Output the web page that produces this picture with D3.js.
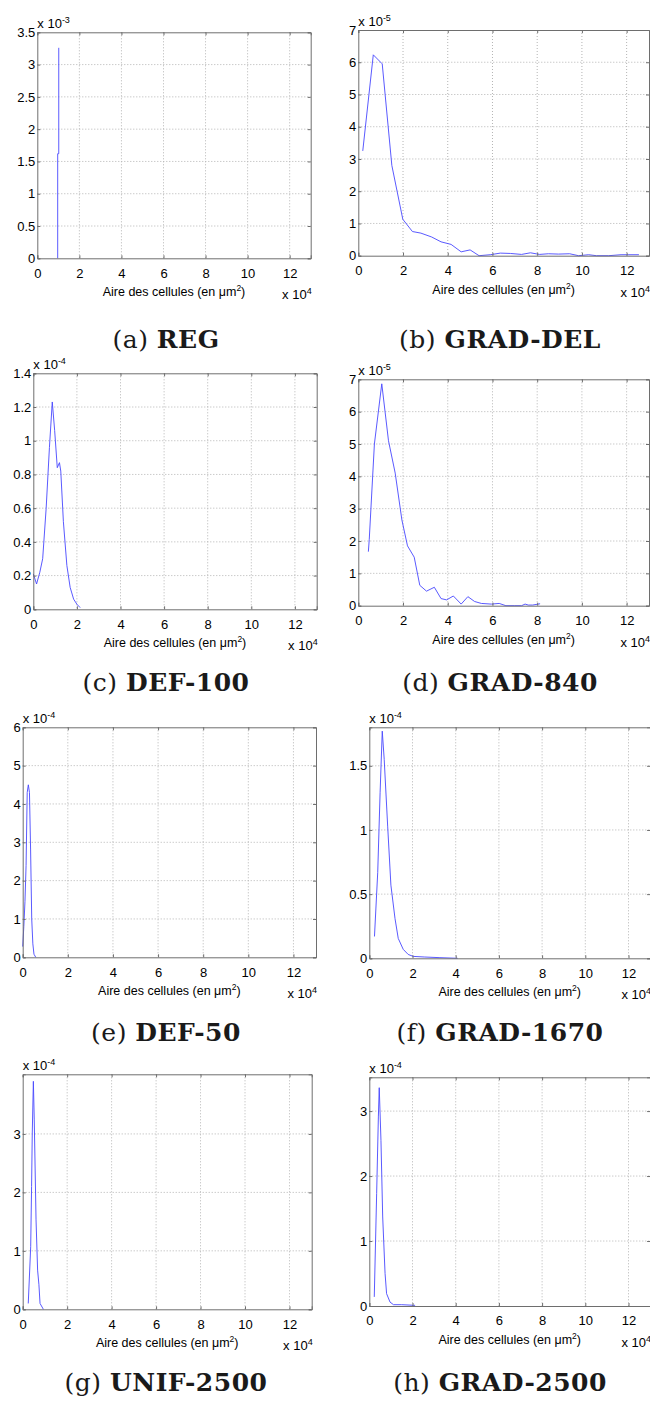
<!DOCTYPE html>
<html>
<head>
<meta charset="utf-8">
<script src="https://cdn.jsdelivr.net/npm/d3@7"></script>
<style>
  html, body { margin: 0; padding: 0; background: #fff; }
  svg { display: block; }
  .tick-label { font-family: "Liberation Sans", Arial, sans-serif; font-size: 13px; fill: #000; }
  .axis-title { font-family: "Liberation Sans", Arial, sans-serif; font-size: 12.5px; fill: #000; }
  .caption { font-family: "DejaVu Serif", "Liberation Serif", serif; font-size: 25px; letter-spacing: 0.5px; fill: #1a1a1a; }
</style>
</head>
<body>
<svg id="fig" width="650" height="1403"></svg>
<script>
// ---------------- DATA ----------------
const xTicks = [0, 2, 4, 6, 8, 10, 12];
const xDomain = [0, 13];

// (a) REG
const regX = [0.97, 0.97, 1.02, 1.02];
const regY = [0, 1.62, 1.62, 3.26];
const regYTicks = [0, 0.5, 1, 1.5, 2, 2.5, 3, 3.5];
const regYMax = 3.5;

// (b) GRAD-DEL
const gradDelX = [0.2, 0.67, 1.07, 1.5, 1.99, 2.42, 2.8, 3.28, 3.7, 4.15, 4.6, 5.0, 5.4, 5.9, 6.35, 6.8, 7.3, 7.7, 8.1, 8.5, 8.95, 9.45, 9.85, 10.3, 10.65, 11.2, 11.75, 12.1, 12.55];
const gradDelY = [3.25, 6.23, 5.95, 2.8, 1.13, 0.75, 0.7, 0.58, 0.43, 0.35, 0.12, 0.18, 0.0, 0.03, 0.08, 0.07, 0.04, 0.09, 0.04, 0.06, 0.05, 0.06, 0.0, 0.03, 0.0, 0.0, 0.03, 0.03, 0.03];
const gradDelYTicks = [0, 1, 2, 3, 4, 5, 6, 7];
const gradDelYMax = 7;

// (c) DEF-100
const def100X = [0.0, 0.15, 0.3, 0.43, 0.59, 0.74, 0.87, 0.98, 1.1, 1.2, 1.26, 1.38, 1.54, 1.69, 1.85, 2.0, 2.15];
const def100Y = [0.21, 0.15, 0.22, 0.3, 0.6, 0.96, 1.23, 1.06, 0.84, 0.87, 0.82, 0.52, 0.26, 0.13, 0.06, 0.03, 0.01];
const def100YTicks = [0, 0.2, 0.4, 0.6, 0.8, 1, 1.2, 1.4];
const def100YMax = 1.4;

// (d) GRAD-840
const grad840X = [0.45, 0.49, 0.72, 1.05, 1.35, 1.65, 1.95, 2.2, 2.5, 2.75, 3.05, 3.4, 3.7, 3.95, 4.25, 4.6, 4.9, 5.2, 5.5, 5.95, 6.3, 6.6, 7.0, 7.3, 7.46, 7.6, 7.8, 8.13];
const grad840Y = [1.67, 2.05, 5.0, 6.86, 5.1, 4.1, 2.65, 1.85, 1.5, 0.63, 0.45, 0.57, 0.22, 0.18, 0.3, 0.05, 0.28, 0.13, 0.07, 0.05, 0.07, 0.0, 0.0, 0.0, 0.05, 0.02, 0.02, 0.06];
const grad840YTicks = [0, 1, 2, 3, 4, 5, 6, 7];
const grad840YMax = 7;

// (e) DEF-50
const def50X = [0.0, 0.05, 0.1, 0.15, 0.2, 0.25, 0.3, 0.35, 0.4, 0.45, 0.5, 0.58];
const def50Y = [0.28, 0.8, 1.45, 2.4, 4.3, 4.5, 4.3, 2.8, 1.0, 0.35, 0.08, 0.0];
const def50YTicks = [0, 1, 2, 3, 4, 5, 6];
const def50YMax = 6;

// (f) GRAD-1670
const grad1670X = [0.24, 0.39, 0.5, 0.6, 0.69, 0.85, 1.0, 1.19, 1.34, 1.57, 1.8, 2.03, 2.57, 3.27, 4.09];
const grad1670Y = [0.17, 0.67, 1.29, 1.77, 1.55, 1.03, 0.57, 0.31, 0.155, 0.07, 0.03, 0.015, 0.01, 0.005, 0.0];
const grad1670YTicks = [0, 0.5, 1, 1.5];
const grad1670YMax = 1.8;

// (g) UNIF-2500
const unif2500X = [0.25, 0.36, 0.4, 0.43, 0.48, 0.52, 0.6, 0.67, 0.73, 0.78, 0.93];
const unif2500Y = [0.1, 1.07, 2.1, 3.0, 3.9, 3.24, 1.53, 0.67, 0.42, 0.1, 0.0];
const unif2500YTicks = [0, 1, 2, 3];
const unif2500YMax = 4.02;

// (h) GRAD-2500
const grad2500X = [0.23, 0.34, 0.42, 0.46, 0.54, 0.62, 0.73, 0.8, 0.96, 1.12, 1.5, 2.12];
const grad2500Y = [0.14, 1.73, 2.91, 3.36, 2.55, 1.37, 0.5, 0.19, 0.06, 0.02, 0.02, 0.01];
const grad2500YTicks = [0, 1, 2, 3];
const grad2500YMax = 3.52;

const captionLetters = ["(a)", "(b)", "(c)", "(d)", "(e)", "(f)", "(g)", "(h)"];
const captionNames = ["REG", "GRAD-DEL", "DEF-100", "GRAD-840", "DEF-50", "GRAD-1670", "UNIF-2500", "GRAD-2500"];
const yExponents = ["-3", "-5", "-4", "-5", "-4", "-4", "-4", "-4"];
const xExponent = "4";
const xTitle = "Aire des cellules (en ";

// ---------------- LAYOUT ----------------
const boxes = [
  {L: 37.3, R: 310.7, T: 32.3, B: 258.3, cx: 166, capY: 348},
  {L: 358.3, R: 649, T: 30, B: 255.7, cx: 500, capY: 348},
  {L: 33.3, R: 316.7, T: 373.3, B: 609.3, cx: 166, capY: 691},
  {L: 358.3, R: 649, T: 379.3, B: 605.7, cx: 500, capY: 691},
  {L: 22.7, R: 316, T: 727.3, B: 957.3, cx: 166, capY: 1041},
  {L: 369.3, R: 650.1, T: 727.3, B: 958.3, cx: 500, capY: 1041},
  {L: 22.7, R: 311.7, T: 1074.3, B: 1309.3, cx: 166, capY: 1391},
  {L: 369.3, R: 650.1, T: 1077.3, B: 1306, cx: 500, capY: 1391}
];

const series = [
  [regX, regY, regYTicks, regYMax],
  [gradDelX, gradDelY, gradDelYTicks, gradDelYMax],
  [def100X, def100Y, def100YTicks, def100YMax],
  [grad840X, grad840Y, grad840YTicks, grad840YMax],
  [def50X, def50Y, def50YTicks, def50YMax],
  [grad1670X, grad1670Y, grad1670YTicks, grad1670YMax],
  [unif2500X, unif2500Y, unif2500YTicks, unif2500YMax],
  [grad2500X, grad2500Y, grad2500YTicks, grad2500YMax]
];

const svg = d3.select("#fig");
svg.append("rect").attr("width", 650).attr("height", 1403).attr("fill", "#fff");

const fmt = v => String(+v.toFixed(2));
const tickLen = 3;

series.forEach(([xs, ys, yTicks, yMax], i) => {
  const b = boxes[i];
  const x = d3.scaleLinear().domain(xDomain).range([b.L, b.R]);
  const y = d3.scaleLinear().domain([0, yMax]).range([b.B, b.T]);
  const g = svg.append("g");

  // grid
  g.append("g").selectAll("line").data(xTicks.filter(t => t > 0)).join("line")
    .attr("x1", d => x(d)).attr("x2", d => x(d)).attr("y1", b.T).attr("y2", b.B)
    .attr("stroke", "#b4b4b4").attr("stroke-width", 1).attr("stroke-dasharray", "1,2");
  g.append("g").selectAll("line").data(yTicks.filter(t => t > 0 && t < yMax)).join("line")
    .attr("x1", b.L).attr("x2", b.R).attr("y1", d => y(d)).attr("y2", d => y(d))
    .attr("stroke", "#b4b4b4").attr("stroke-width", 1).attr("stroke-dasharray", "1,2");

  // curve
  const pts = xs.map((v, k) => [v, ys[k]]);
  g.append("path").datum(pts)
    .attr("d", d3.line().x(d => x(d[0])).y(d => y(d[1])))
    .attr("fill", "none").attr("stroke", "#4747ff").attr("stroke-width", 0.9);

  // axes (inward ticks, box)
  const bottom = d3.axisBottom(x).tickValues(xTicks).tickSize(-tickLen).tickFormat(fmt).tickPadding(7);
  const top = d3.axisTop(x).tickValues(xTicks).tickSize(-tickLen).tickFormat("");
  const left = d3.axisLeft(y).tickValues(yTicks).tickSize(-tickLen).tickFormat(fmt).tickPadding(4);
  const right = d3.axisRight(y).tickValues(yTicks).tickSize(-tickLen).tickFormat("");

  const styleAxis = sel => {
    sel.selectAll("path.domain").attr("stroke", "#6e6e6e").attr("stroke-width", 1);
    sel.selectAll(".tick line").attr("stroke", "#6e6e6e");
    sel.selectAll(".tick text").attr("class", "tick-label").attr("font-family", null).attr("font-size", null);
    sel.attr("font-family", null).attr("font-size", null);
  };
  g.append("g").attr("transform", `translate(0,${b.B})`).call(bottom).call(styleAxis)
    .selectAll(".tick text").attr("dy", "0.95em");
  g.append("g").attr("transform", `translate(0,${b.T})`).call(top).call(styleAxis);
  g.append("g").attr("transform", `translate(${b.L},0)`).call(left).call(styleAxis)
    .selectAll(".tick text").attr("x", -2);
  g.append("g").attr("transform", `translate(${b.R},0)`).call(right).call(styleAxis);

  // y exponent
  const ye = g.append("text").attr("class", "tick-label").attr("x", b.L).attr("y", b.T - 4);
  ye.append("tspan").text("x 10");
  ye.append("tspan").attr("dy", -5).attr("font-size", 9).text(yExponents[i]);

  // x title
  const xt = g.append("text").attr("class", "axis-title")
    .attr("x", (b.L + b.R) / 2).attr("y", b.B + 38).attr("text-anchor", "middle");
  xt.append("tspan").text(xTitle + "\u03BCm");
  xt.append("tspan").attr("dy", -5).attr("font-size", 8.5).text("2");
  xt.append("tspan").attr("dy", 5).text(")");

  // x exponent
  const xe = g.append("text").attr("class", "tick-label")
    .attr("x", b.R + 1).attr("y", b.B + 41).attr("text-anchor", "end");
  xe.append("tspan").text("x 10");
  xe.append("tspan").attr("dy", -5).attr("font-size", 9).text(xExponent);

  // caption
  const cap = svg.append("text").attr("class", "caption")
    .attr("x", b.cx).attr("y", b.capY).attr("text-anchor", "middle");
  cap.append("tspan").text(captionLetters[i] + " ");
  cap.append("tspan").attr("font-weight", "bold").text(captionNames[i]);
});
</script>
</body>
</html>
